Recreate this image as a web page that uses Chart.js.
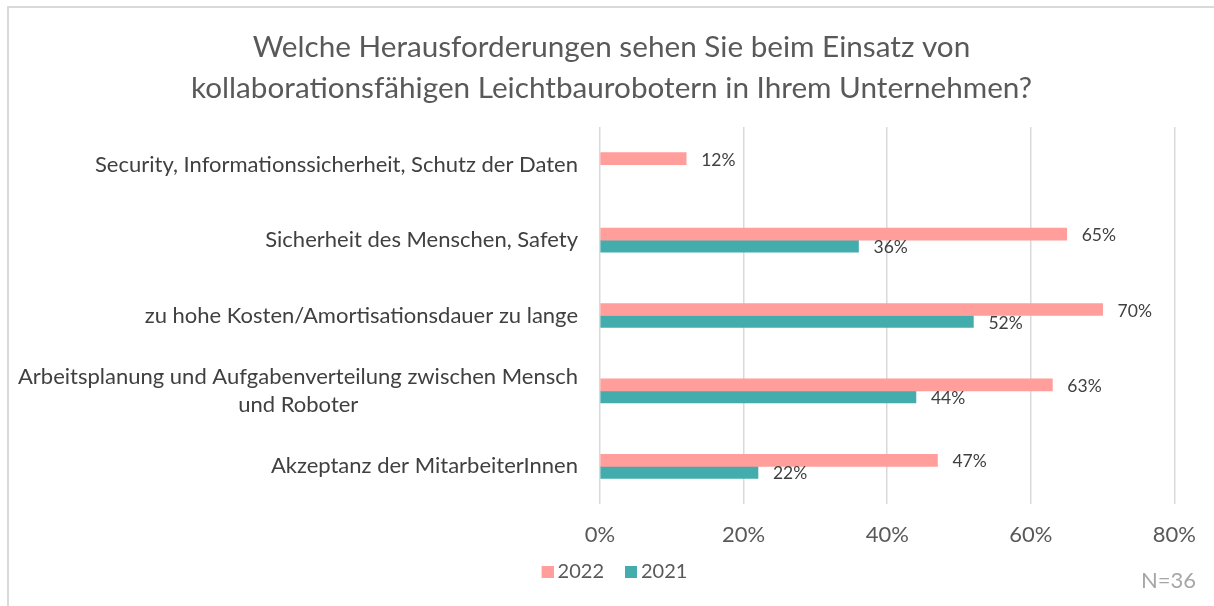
<!DOCTYPE html>
<html>
<head>
<meta charset="utf-8">
<script src="https://cdn.jsdelivr.net/npm/chart.js@4"></script>
<style>
  html, body { margin: 0; padding: 0; background: #fff; overflow: hidden; }
  #frame {
    position: absolute; left: 7px; top: 6px;
    width: 1220px; height: 620px;
    border-top: 2px solid #d9d9d9; border-left: 2px solid #d9d9d9;
  }
  #wrap { position: absolute; left: 0; top: 0; width: 1205px; height: 598px; }
</style>
</head>
<body>
<div id="frame"><div id="wrap"><canvas id="chart"></canvas></div></div>
<script>
// data
var categories = [
  'Security, Informationssicherheit, Schutz der Daten',
  'Sicherheit des Menschen, Safety',
  'zu hohe Kosten/Amortisationsdauer zu lange',
  ['Arbeitsplanung und Aufgabenverteilung zwischen Mensch', 'und Roboter'],
  'Akzeptanz der MitarbeiterInnen'
];
var values2022 = [12, 65, 70, 63, 47];
var values2021 = [null, 36, 52, 44, 22];
var seriesNames = ['2022', '2021'];
var seriesColors = ['#ff9e9a', '#43adad'];
var xTickValues = [0, 20, 40, 60, 80];
var titleLines = [
  'Welche Herausforderungen sehen Sie beim Einsatz von',
  'kollaborationsfähigen Leichtbaurobotern in Ihrem Unternehmen?'
];
var footNote = 'N=36';

var FONT = 'Lato, "Open Sans", sans-serif';
var labelFontSize = 22;

// wrapped category labels are centred in Excel, pad the short lines with spaces
var measureCtx = document.createElement('canvas').getContext('2d');
function centreLines(label) {
  if (!Array.isArray(label)) return label;
  measureCtx.font = labelFontSize + 'px ' + FONT;
  var widths = label.map(function (l) { return measureCtx.measureText(l).width; });
  var maxW = Math.max.apply(null, widths);
  var spaceW = measureCtx.measureText(' ').width;
  return label.map(function (l, i) {
    var n = Math.round((maxW - widths[i]) / 2 / spaceW);
    return l + ' '.repeat(n);
  });
}

// legend marker: square sitting close to its text, like Excel
function legendSwatch(color) {
  var c = document.createElement('canvas');
  c.width = 24; c.height = 12;
  var g = c.getContext('2d');
  g.fillStyle = color;
  g.fillRect(12, 0, 12, 12);
  return c;
}

var valueLabels = {
  id: 'valueLabels',
  afterDatasetsDraw: function (chart) {
    var ctx = chart.ctx;
    ctx.save();
    ctx.font = '17.5px ' + FONT;
    ctx.fillStyle = '#404040';
    ctx.textAlign = 'left';
    ctx.textBaseline = 'middle';
    chart.data.datasets.forEach(function (ds, i) {
      chart.getDatasetMeta(i).data.forEach(function (bar, j) {
        var v = ds.data[j];
        if (v === null || v === undefined) return;
        ctx.fillText(v + '%', bar.x + 15, bar.y + 1.5);
      });
    });
    ctx.restore();
  }
};

// let the long category label use the room left of the axis box
var labelRoom = {
  id: 'labelRoom',
  afterLayout: function (chart) { chart.scales.y.left = 0; }
};

var footNotePlugin = {
  id: 'footNote',
  afterDraw: function (chart) {
    var ctx = chart.ctx;
    ctx.save();
    ctx.font = '22px ' + FONT;
    ctx.fillStyle = '#a6a6a6';
    ctx.textAlign = 'right';
    ctx.textBaseline = 'middle';
    ctx.fillText(footNote, chart.width - 18, chart.height - 25);
    ctx.restore();
  }
};

new Chart(document.getElementById('chart'), {
  type: 'bar',
  data: {
    labels: categories,
    datasets: [
      { label: seriesNames[0], data: values2022, backgroundColor: seriesColors[0], borderWidth: 0, barThickness: 12 },
      { label: seriesNames[1], data: values2021, backgroundColor: seriesColors[1], borderWidth: 0, barThickness: 12 }
    ]
  },
  options: {
    indexAxis: 'y',
    responsive: true,
    maintainAspectRatio: false,
    animation: false,
    layout: { padding: { left: 38, right: 38, top: 0, bottom: 14 } },
    scales: {
      x: {
        min: 0, max: 80,
        afterBuildTicks: function (scale) {
          scale.ticks = xTickValues.map(function (v) { return { value: v }; });
        },
        afterFit: function (scale) { scale.height = 43; },
        grid: { color: '#d9d9d9', lineWidth: 1.5, drawTicks: false },
        border: { display: false },
        ticks: {
          padding: 18,
          color: '#595959',
          font: { family: FONT, size: 22 },
          callback: function (v) { return v + '%'; }
        }
      },
      y: {
        grid: { display: false },
        border: { display: false },
        afterFit: function (scale) { scale.width = 553; },
        ticks: {
          padding: 14,
          color: '#404040',
          font: { family: FONT, size: labelFontSize, lineHeight: 1.27 },
          callback: function (v) { return centreLines(this.getLabelForValue(v)); }
        }
      }
    },
    plugins: {
      title: {
        display: true,
        text: titleLines,
        color: '#595959',
        font: { family: FONT, size: 29.7, weight: 'normal', lineHeight: 1.38 },
        padding: { top: 18.5, bottom: 18.5 }
      },
      legend: {
        position: 'bottom',
        labels: {
          color: '#595959',
          font: { family: FONT, size: 20 },
          usePointStyle: true,
          pointStyleWidth: 12,
          boxHeight: 12,
          padding: 15,
          generateLabels: function (chart) {
            var items = Chart.defaults.plugins.legend.labels.generateLabels(chart);
            items.forEach(function (it, i) { it.pointStyle = legendSwatch(seriesColors[i]); });
            return items;
          }
        }
      },
      tooltip: { enabled: false }
    }
  },
  plugins: [valueLabels, labelRoom, footNotePlugin]
});
</script>
</body>
</html>
